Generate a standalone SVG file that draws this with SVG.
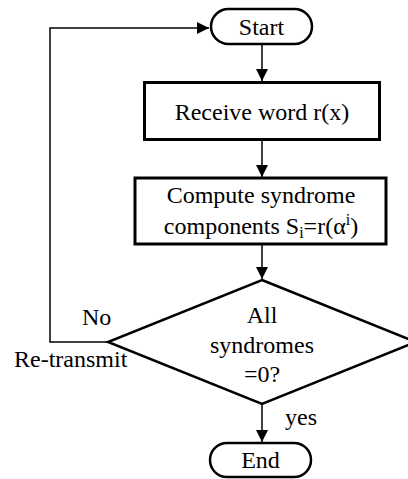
<svg xmlns="http://www.w3.org/2000/svg" width="408" height="479" viewBox="0 0 408 479" font-family="Liberation Serif, serif" font-size="24">
<style>
text{fill:#000}
.c{text-anchor:middle}
.term{fill:#fff;stroke:#000;stroke-width:2.5}
.box{fill:#fff;stroke:#000;stroke-width:3}
.dia{fill:#fff;stroke:#000;stroke-width:2.5}
.edge{fill:none;stroke:#000;stroke-width:1.5}
</style>
<defs>
<marker id="ah" viewBox="0 0 12 12" refX="12" refY="6" markerWidth="12" markerHeight="12" markerUnits="userSpaceOnUse" orient="auto">
<path d="M0,0 L12,6 L0,12 Z" fill="#000"/>
</marker>
</defs>
<g id="connectors">
<line class="edge" x1="262" y1="45" x2="262" y2="81" marker-end="url(#ah)"/>
<line class="edge" x1="262" y1="140" x2="262" y2="177" marker-end="url(#ah)"/>
<line class="edge" x1="262" y1="245" x2="262" y2="279" marker-end="url(#ah)"/>
<line class="edge" x1="262" y1="404" x2="262" y2="442" marker-end="url(#ah)"/>
<polyline class="edge" points="108,342 50,342 50,28 209,28" marker-end="url(#ah)"/>
<text x="82" y="325" font-family="Liberation Serif, serif">No</text>
<text x="14" y="367" font-family="Liberation Serif, serif">Re-transmit</text>
<text x="285" y="425" font-family="Liberation Serif, serif">yes</text>
</g>
<g id="start">
<rect class="term" x="211" y="9" width="101" height="35" rx="17.5"/>
<text class="c" x="261.5" y="35" font-family="Liberation Serif, serif">Start</text>
</g>
<g id="receive">
<rect class="box" x="144.5" y="82.5" width="235" height="57"/>
<text class="c" x="262" y="120" font-family="Liberation Serif, serif">Receive word r(x)</text>
</g>
<g id="compute">
<rect class="box" x="135" y="178" width="251" height="66"/>
<text class="c" x="261" y="203" font-family="Liberation Serif, serif">Compute syndrome</text>
<text class="c" x="261" y="234" font-family="Liberation Serif, serif">components S<tspan font-size="16" dy="4">i</tspan><tspan dy="-4">=r(α</tspan><tspan font-size="16" dy="-9">i</tspan><tspan dy="9">)</tspan></text>
</g>
<g id="decision">
<polygon class="dia" points="262,280 416,342 262,404 108,342"/>
<text class="c" x="262" y="323" font-family="Liberation Serif, serif">All</text>
<text class="c" x="262" y="353" font-family="Liberation Serif, serif">syndromes</text>
<text class="c" x="262" y="382" font-family="Liberation Serif, serif">=0?</text>
</g>
<g id="end">
<rect class="term" x="210" y="443" width="101" height="34" rx="17"/>
<text class="c" x="260.5" y="468" font-family="Liberation Serif, serif">End</text>
</g>
</svg>
